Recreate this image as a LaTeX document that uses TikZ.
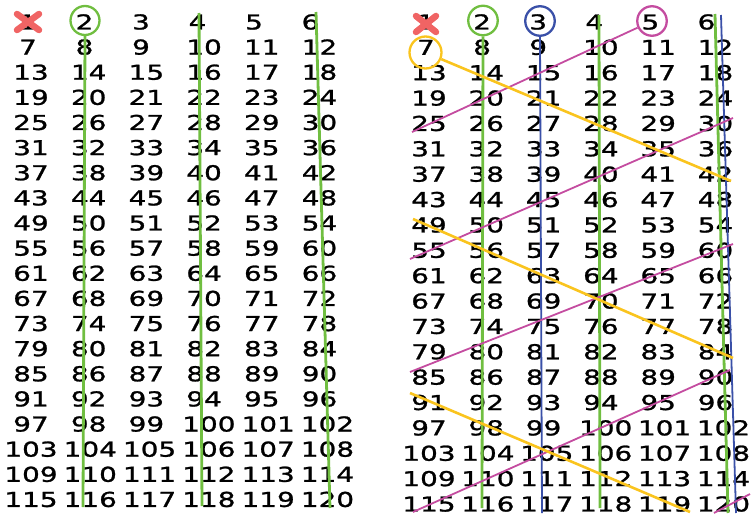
\documentclass[tikz,border=0pt]{standalone}
\usepackage{fontspec}
\setmainfont{DejaVu Sans}[FakeStretch=1.36,FakeBold=1.2]
\definecolor{cgreen}{RGB}{112,190,64}
\definecolor{cblue}{RGB}{58,80,168}
\definecolor{cmag}{RGB}{196,76,160}
\definecolor{cyel}{RGB}{250,196,30}
\definecolor{cred}{RGB}{240,100,100}
\begin{document}
\begin{tikzpicture}[x=1pt,y=-1pt,
  num/.style={inner sep=0pt,text height=14.9pt,text depth=0pt,font=\fontsize{20.5}{24}\selectfont},
  ring/.style={circle,draw=#1,line width=2.3pt,inner sep=0pt},
  gline/.style={draw=cgreen,line width=2.8pt},
  bline/.style={draw=cblue,line width=1.8pt},
  mline/.style={draw=cmag,line width=1.8pt},
  yline/.style={draw=cyel,line width=2.6pt},
  xmark/.style={draw=cred,line width=6.5pt,line cap=round}]
\useasboundingbox (0,0) rectangle (753,514);
\foreach \n in {1,...,120}{
  \pgfmathtruncatemacro\c{mod(\n-1,6)}
  \pgfmathtruncatemacro\r{div(\n-1,6)}
  \pgfmathsetmacro\base{\n<10 ? 28 : 31}
  \pgfmathsetmacro\dx{\n<10 ? 56.5 : (\n<100 ? 57.7 : 59.3)}
  \pgfmathsetmacro\xl{\base+\c*\dx}
  \pgfmathsetmacro\xr{\xl+398-\c*0.4}
  \pgfmathsetmacro\yl{22+\r*25.13}
  \pgfmathsetmacro\yr{22+\r*25.37}
  \node[num] (L\n) at (\xl,\yl) {\n};
  \node[num] (R\n) at (\xr,\yr) {\n};
}
% red crosses over 1
\draw[xmark] ([xshift=-11pt,yshift=8pt]L1.center) -- ([xshift=11pt,yshift=-8pt]L1.center);
\draw[xmark] ([xshift=-11pt,yshift=-8pt]L1.center) -- ([xshift=11pt,yshift=8pt]L1.center);
\draw[xmark] ([xshift=-10pt,yshift=6pt]R1.center) -- ([xshift=10pt,yshift=-10pt]R1.center);
\draw[xmark] ([xshift=-10pt,yshift=-10pt]R1.center) -- ([xshift=10pt,yshift=6pt]R1.center);
% circles
\node[ring=cgreen,minimum size=29pt] (cL2) at (85,20.5) {};
\node[ring=cgreen,minimum size=29.5pt] (cR2) at (483,20.5) {};
\node[ring=cblue,minimum size=29.5pt] (cR3) at (540,21) {};
\node[ring=cmag,minimum size=29.5pt] (cR5) at (652,21) {};
\node[ring=cyel,minimum size=32pt] (cR7) at (425.5,52.5) {};
% end points
\coordinate (gl1) at (83,507);
\coordinate (gl2a) at (199,13);  \coordinate (gl2b) at (202,506);
\coordinate (gl3a) at (316,12);  \coordinate (gl3b) at (330,508);
\coordinate (gr1) at (482,508);
\coordinate (gr2a) at (599,15);  \coordinate (gr2b) at (600,508);
\coordinate (gr3a) at (715,14);  \coordinate (gr3b) at (728,513);
\coordinate (br1) at (542,513);
\coordinate (br2a) at (721,15);  \coordinate (br2b) at (736,513);
\coordinate (m1) at (412,132);
\coordinate (m2a) at (733,118);  \coordinate (m2b) at (410,259);
\coordinate (m3a) at (733,244);  \coordinate (m3b) at (410,372);
\coordinate (m4a) at (730,370);  \coordinate (m4b) at (413,512);
\coordinate (m5a) at (714,513);  \coordinate (m5b) at (750,494);
\coordinate (y1) at (731,181);
\coordinate (y2a) at (413,219);  \coordinate (y2b) at (733,358);
\coordinate (y3a) at (410,393);  \coordinate (y3b) at (690,512);
% left grid lines
\draw[gline] (cL2.south) -- (gl1);
\draw[gline] (gl2a) -- (gl2b);
\draw[gline] (gl3a) -- (gl3b);
% right grid lines
\draw[gline] (cR2.south) -- (gr1);
\draw[gline] (gr2a) -- (gr2b);
\draw[gline] (gr3a) -- (gr3b);
\draw[bline] (cR3.south) -- (br1);
\draw[bline] (br2a) -- (br2b);
\draw[mline] (cR5) -- (m1);
\draw[mline] (m2a) -- (m2b);
\draw[mline] (m3a) -- (m3b);
\draw[mline] (m4a) -- (m4b);
\draw[mline] (m5a) -- (m5b);
\draw[yline] (cR7) -- (y1);
\draw[yline] (y2a) -- (y2b);
\draw[yline] (y3a) -- (y3b);
\end{tikzpicture}
\end{document}
